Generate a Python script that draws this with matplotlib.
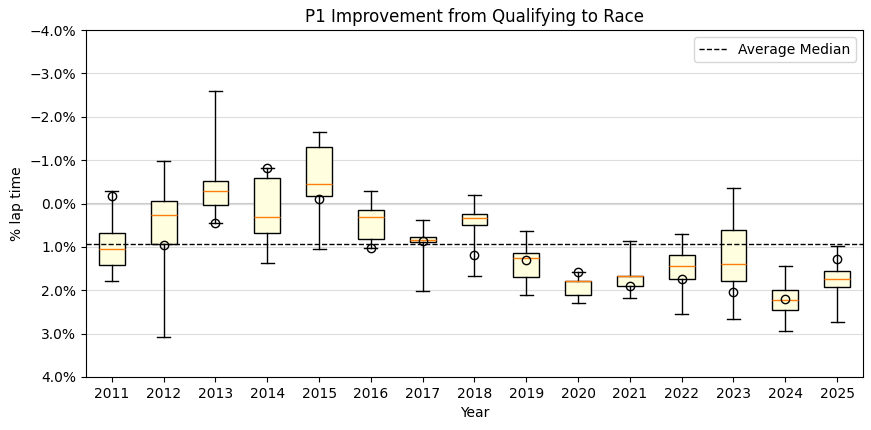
import matplotlib
matplotlib.use("Agg")
import matplotlib.pyplot as plt
from matplotlib.ticker import PercentFormatter
import numpy as np

years = ["2011", "2012", "2013", "2014", "2015", "2016", "2017", "2018",
         "2019", "2020", "2021", "2022", "2023", "2024", "2025"]
whisker_low = [-0.30, -0.985, -2.60, -0.83, -1.65, -0.29, 0.37, -0.20,
               0.63, 1.59, 0.86, 0.70, -0.36, 1.44, 0.975]
q1 = [0.68, -0.065, -0.52, -0.59, -1.30, 0.145, 0.77, 0.235,
      1.13, 1.78, 1.67, 1.18, 0.61, 1.985, 1.55]
medians = [1.045, 0.255, -0.29, 0.30, -0.45, 0.30, 0.85, 0.33,
           1.25, 1.78, 1.68, 1.44, 1.39, 2.22, 1.75]
q3 = [1.41, 0.925, 0.045, 0.67, -0.18, 0.82, 0.885, 0.49,
      1.69, 2.10, 1.895, 1.74, 1.78, 2.45, 1.915]
whisker_high = [1.78, 3.08, 0.46, 1.37, 1.045, 1.025, 2.015, 1.67,
                2.10, 2.29, 2.17, 2.54, 2.66, 2.935, 2.73]
markers = [-0.18, 0.955, 0.46, -0.83, -0.105, 1.025, 0.875, 1.18,
           1.30, 1.59, 1.895, 1.74, 2.035, 2.20, 1.27]

stats = []
for i in range(len(years)):
    stats.append(dict(label=years[i], whislo=whisker_low[i], q1=q1[i],
                      med=medians[i], q3=q3[i], whishi=whisker_high[i],
                      fliers=[]))

fig = plt.figure(figsize=(8.71, 4.30), dpi=100)
ax = fig.add_axes([0.0987, 0.1233, 0.8921, 0.8067])

ax.grid(axis="y", color="#dddddd", linewidth=0.8, zorder=0)
ax.axhline(0, color="#cccccc", linewidth=1.5, zorder=1)

positions = np.arange(1, len(years) + 1)
ax.bxp(stats, positions=positions, patch_artist=True, showfliers=False,
       boxprops=dict(facecolor="#FFFFE0", edgecolor="black"),
       medianprops=dict(color="C1"))
ax.plot(positions, markers, linestyle="none", marker="o", markersize=6,
        markerfacecolor="none", markeredgecolor="black", zorder=4)

avg_med = float(np.mean(medians))
ax.axhline(avg_med, color="black", linestyle="--", linewidth=1,
           label="Average Median", zorder=3)

ax.set_ylim(4, -4)
ax.set_yticks(np.arange(-4, 5, 1))
ax.yaxis.set_major_formatter(PercentFormatter(decimals=1))
ax.set_xticks(positions)
ax.set_xticklabels(years)
ax.set_xlim(0.5, len(years) + 0.5)

ax.set_title("P1 Improvement from Qualifying to Race")
ax.set_xlabel("Year")
ax.set_ylabel("% lap time")
ax.legend(loc="upper right")

fig.savefig("out.png", dpi=100)
